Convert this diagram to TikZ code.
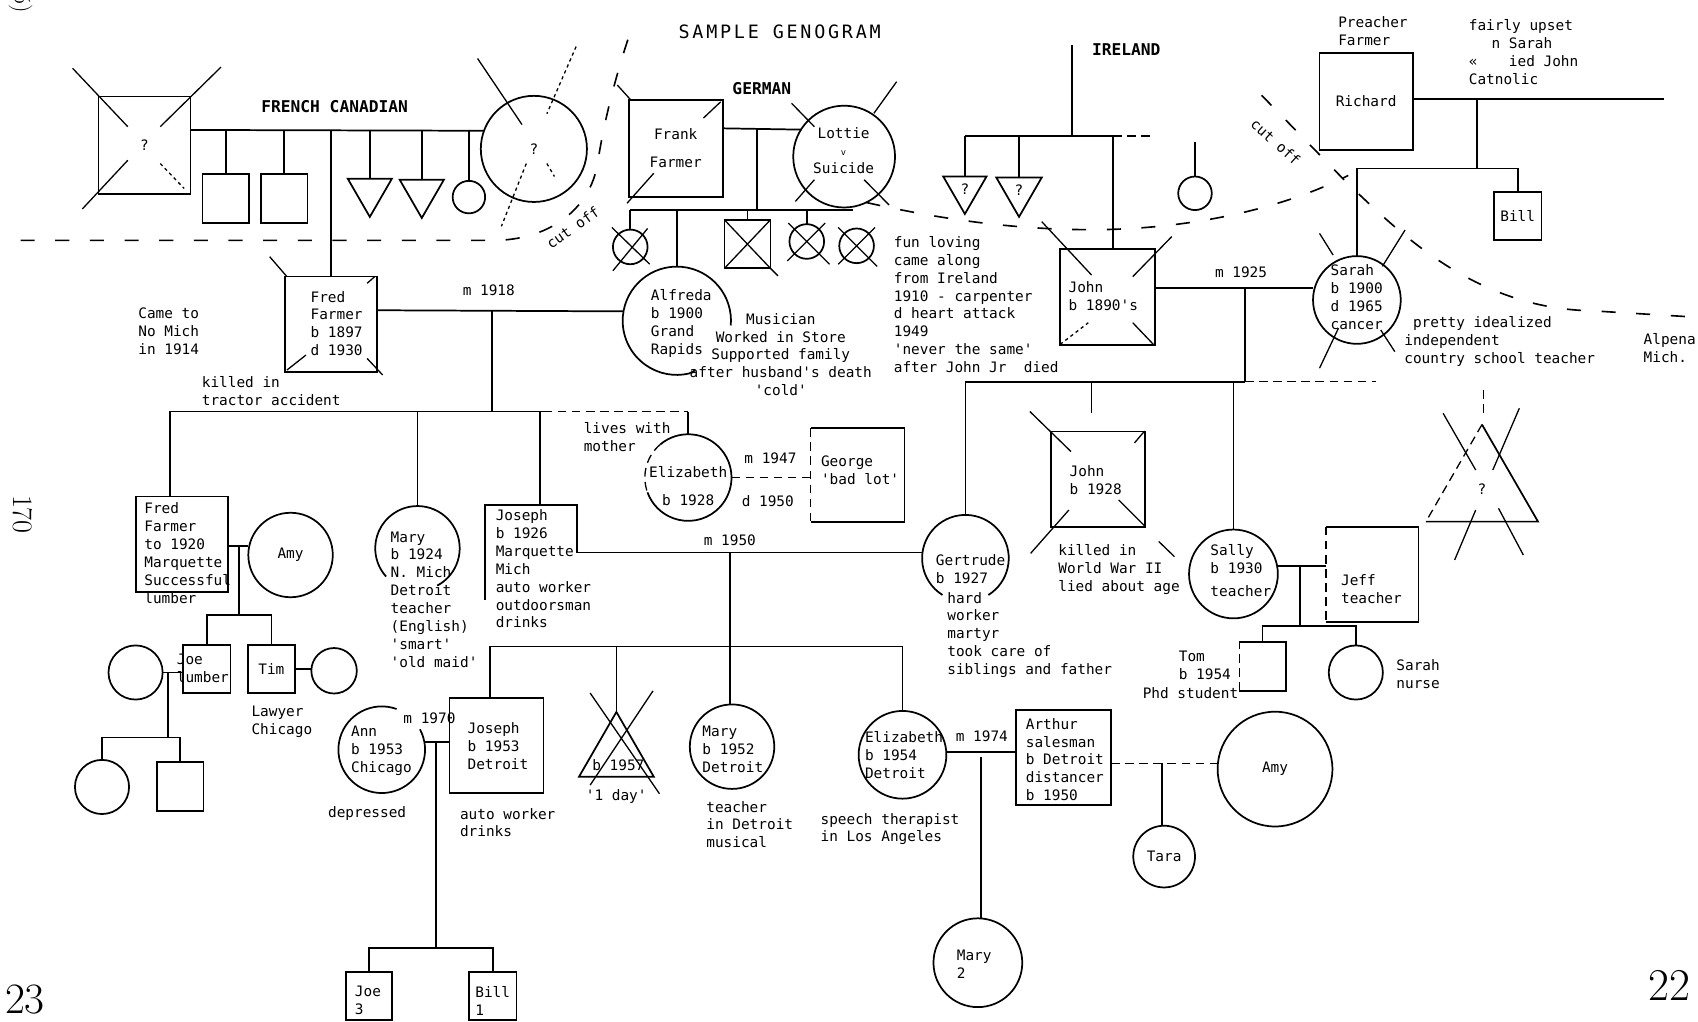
\documentclass[tikz,border=0pt]{standalone}
\usepackage{fontspec}
\usepackage{tikz}
\usetikzlibrary{shapes.geometric,calc}
\newfontfamily\gfont{DejaVu Sans Mono}
\newfontfamily\gtitle[LetterSpace=15]{DejaVu Sans Mono}
\newcommand\gsize{\fontsize{13.3}{16.5}\selectfont}

\begin{document}
\begin{tikzpicture}[
  x=1pt, y=-1pt, line width=1.6pt,
  male/.style 2 args={draw,rectangle,minimum width=#1,minimum height=#2,inner sep=0pt,outer sep=0pt},
  female/.style={draw,circle,minimum size=#1,inner sep=0pt,outer sep=0pt},
  tri/.style={draw,regular polygon,regular polygon sides=3,minimum size=#1,inner sep=0pt,outer sep=0pt},
  txt/.style={font=\gfont\gsize,align=left,anchor=north west,inner sep=0pt},
  lab/.style={font=\gfont\gsize,inner sep=0pt},
  caps/.style={font=\gfont\bfseries\fontsize{15}{18}\selectfont,inner sep=0pt},
  xl/.style={line width=1.2pt},
  dsh/.style={line width=1.2pt,dash pattern=on 8pt off 5pt},
  cutline/.style={line width=1.5pt,dash pattern=on 13pt off 19pt},
  pnum/.style={font=\fontsize{#1}{#1}\selectfont,inner sep=0pt}
]
\useasboundingbox (0,0) rectangle (1568,943);

% page numbers
\node[pnum=22,rotate=-90] (pgfive) at (19,-1) {(5)};
\node[pnum=26,rotate=-90] (pgleft) at (21,475) {170};
\node[pnum=40] (pgsw) at (23,923) {23};
\node[pnum=42] (pgse) at (1542,910) {22};
\node[font=\gtitle\fontsize{17}{20}\selectfont] (title) at (720,29) {SAMPLE GENOGRAM};

% French Canadian side
\node[male={85}{90},font=\gfont\gsize] (fcdad) at (133.5,134) {?};
\node[female=98,font=\gfont\gsize] (fcmom) at (493,137.5) {?};
\node[caps] (fclab) at (309,98) {FRENCH CANADIAN};
\coordinate (fcm) at (300,120);
\draw (fcdad.east |- fcm) -- (fcmom.160);
\node[male={43}{45}] (fcs1) at (208.5,183.5) {};
\node[male={43}{45}] (fcs2) at (262.5,183.5) {};
\node[tri=47,shape border rotate=180] (fcs3) at (341.5,176.8) {};
\node[tri=47,shape border rotate=180] (fcs4) at (389.5,177.8) {};
\node[female=30] (fcs5) at (433,182) {};
\foreach \k in {fcs1,fcs2,fcs3,fcs4,fcs5} \draw (\k.north |- fcm) -- (\k.north);
\draw[xl] (67,63) -- (118,117) (204,62) -- (148,117) (118,148) -- (76,193);
\draw[xl,dashed] (148,151) -- (170,174);
\draw[xl] (441,54) -- (482,115);
\draw[xl,dashed] (505,151) -- (512,163) (532,43) -- (505,105) (486,151) -- (463,209);
\draw[cutline] (19,222) -- (455,222) .. controls (505,222) and (545,195) .. (552,150) .. controls (558,110) and (570,65) .. (583,27);
\node[lab,rotate=35] (cut1) at (529,210) {cut off};

% Fred and Alfreda
\node[male={85}{88}] (fred) at (305.6,299.4) {};
\draw (fred.north |- fcm) -- (fred.north);
\node[txt] (fredtxt) at (286,268) {Fred\\Farmer\\b 1897\\d 1930};
\draw[xl] (249,237) -- (265,255.5) (346,255.5) -- (339,261.6) (265,341.7) -- (282.6,327.8) (339,331) -- (353.4,346.3);
\node[txt] (came) at (127,283.5) {Came to\\No Mich\\in 1914};
\node[txt] (tractor) at (185.6,347) {killed in\\tractor accident};
\node[female=100,draw=none] (alfreda) at (625,296.2) {};
\draw (alfreda.-5) arc[start angle=-5,end angle=283,radius=50pt] -- (642,342);
\node[txt] (alftxt) at (600.3,266.5) {Alfreda\\b 1900\\Grand\\Rapids};
\coordinate (m18) at (454,286.5);
\draw (fred.east |- m18) -- (alfreda.170);
\node[lab] (m18lab) at (451.4,268) {m 1918};
\coordinate (ffsib) at (454,380);
\coordinate (ffsibE) at (502,380);
\draw (m18) -- (ffsib);
\node[lab,align=center,anchor=north] (alfnote) at (721,288.5) {Musician\\Worked in Store\\Supported family\\after husband's death\\'cold'};
\node[txt] (funlov) at (824.6,217.5) {fun loving\\came along\\from Ireland\\1910 - carpenter\\d heart attack\\1949\\'never the same'\\after John Jr~ died};

% German side
\node[male={86.6}{89.3},font=\gfont\gsize,align=center] (frank) at (624,137) {Frank\\[9pt]Farmer};
\node[female=94] (lottie) at (779.5,144.6) {};
\node[lab,align=center] (lottxt) at (779,139) {Lottie\\{\footnotesize v}\\Suicide};
\node[caps] (gerlab) at (703.5,81.6) {GERMAN};
\coordinate (fl) at (699,118.5);
\draw (frank.east |- fl) -- (lottie.148);
\coordinate (gsib) at (699,194);
\coordinate (gsibE) at (787.5,194);
\draw (fl) -- (gsib);
\draw[xl] (570,78.5) -- (582.5,92.3) (665.5,94) -- (649.6,109) (603.7,160) -- (579,187.7);
\draw[xl] (731,95.4) -- (752,117) (828,75.4) -- (807,104.6) (752,166) -- (734.5,186) (798,166) -- (821,189.3);
\node[female=32] (gk1) at (582,228) {};
\node[male={42.5}{44.8}] (gk3) at (690.2,225.4) {};
\node[female=32] (gk4) at (745,223) {};
\node[female=32] (gk5) at (791,227) {};
\draw (gk1.north |- gsib) -- (gsibE);
\foreach \k in {gk1,gk3,gk4,alfreda} \draw (\k.north |- gsib) -- (\k.north);
\draw[xl] (565,210) -- (600,244) (598,211) -- (566,250);
\draw[xl] (gk3.north west) -- (gk3.south east) -- ++(7,7) (gk3.north east) -- (gk3.south west);
\draw[xl] (728,206) -- (766,244) (762,206) -- (727,241);
\draw[xl] (774,210) -- (810,246) (808,210) -- (774,244);
\draw[cutline] (800,187) .. controls (880,205) and (950,213) .. (1020,212) .. controls (1110,210) and (1190,190) .. (1245,162);

% Irish side
\node[caps] (irlab) at (1040,46) {IRELAND};
\coordinate (irtop) at (989.6,42);
\coordinate (irsib) at (989.6,125.6);
\coordinate (irE) at (1028,125.6);
\coordinate (irD) at (1062,125.6);
\draw (irtop) -- (irsib);
\node[tri=46.2,shape border rotate=180,font=\gfont\gsize] (ik1) at (891,174.5) {?};
\node[tri=48.5,shape border rotate=180,font=\gfont\gsize] (ik2) at (941,176) {?};
\node[male={87.5}{88.6}] (john90) at (1022.8,274.3) {};
\draw (ik1.north |- irsib) -- (irE);
\draw[dsh] (irE) -- (irD);
\foreach \k in {ik1,ik2} \draw (\k.north |- irsib) -- (\k.north);
\draw (irE) -- (irE |- john90.north);
\node[female=31] (ik4) at (1103.5,178.5) {};
\coordinate (ik4s) at (1103.5,131);
\draw (ik4s) -- (ik4.north);
\node[txt] (j90txt) at (986,259) {John\\b 1890's};
\draw[xl] (962,204.7) -- (1008,254) (1082,218.5) -- (1046,255.5) (1046,298) -- (1066,319);
\draw[xl,dashed] (979,318) -- (1005,298);

% Richard and Sarah
\node[female=81] (sarah) at (1253,277) {};
\node[txt] (sartxt) at (1228,243.5) {Sarah\\b 1900\\d 1965\\cancer};
\coordinate (m25) at (1149.7,266);
\draw (john90.east |- m25) -- (sarah.west |- m25);
\node[lab] (m25lab) at (1146,251) {m 1925};
\draw[xl] (1218.5,215.5) -- (1231,235.5) (1297.5,212.4) -- (1276.5,246) (1236,303) -- (1218.5,340) (1275,304.7) -- (1288,324.7);
\node[male={86}{89.5},font=\gfont\gsize] (richard) at (1261.5,93.7) {Richard};
\node[txt] (rictxt) at (1235,14.5) {Preacher\\Farmer};
\coordinate (rmE) at (1536.4,91.4);
\coordinate (rm) at (1363.7,91.4);
\coordinate (rsib) at (1363.7,155.5);
\draw (richard.east |- rmE) -- (rmE);
\draw (rm) -- (rsib);
\node[male={44}{44.6},font=\gfont\gsize] (bill0) at (1401.5,199.3) {Bill};
\draw (sarah.north) -- (sarah.north |- rsib) -- (bill0.north |- rsib) -- (bill0.north);
\node[txt] (upset) at (1355.6,17.5) {fairly upset\\\hspace{21pt}n Sarah\\«\hspace{29pt}ied John\\Catnolic};
\draw[cutline] (1165,88) -- (1245,170) .. controls (1290,212) and (1360,285) .. (1470,287) -- (1568,293);
\node[lab,rotate=-42] (cut2) at (1178,131) {cut off};
\node[txt] (alpena) at (1517,307.5) {Alpena\\Mich.};
\node[txt] (pretty) at (1296,291.5) {~pretty idealized\\independent\\country school teacher};

% children of John and Sarah
\coordinate (jsib) at (1149.7,352.5);
\coordinate (jsibE) at (1271,352.5);
\draw (m25) -- (jsib);
\node[female=80,draw=none] (gertrude) at (891.5,515.5) {};
\draw (gertrude.-58) arc[start angle=-58,end angle=238,radius=40pt];
\draw (gertrude.north) -- (gertrude.north |- jsib) -- (jsib);
\draw[dsh] (jsib) -- (jsibE);
\node[txt] (gertxt) at (863.5,511) {Gertrude\\b 1927};
\node[txt] (gernote) at (874,546) {hard\\worker\\martyr\\took care of\\siblings and father};
\node[male={87}{88}] (john28) at (1014,442.5) {};
\coordinate (j28s) at (1008,381);
\draw (j28s |- jsib) -- (j28s);
\node[txt] (j28txt) at (987,429) {John\\b 1928};
\draw[xl] (951,380) -- (989,417) (1057,398) -- (1047.6,409) (987,471) -- (951.7,511) (1033,461.7) -- (1057.7,486.3) (1070,500) -- (1084.5,514);
\node[txt] (j28note) at (976.5,502) {killed in\\World War II\\lied about age};
\node[female=82] (sally) at (1139,530) {};
\draw (sally.north |- jsib) -- (sally.north);
\node[txt] (saltxt) at (1117,502) {Sally\\b 1930\\[5pt]teacher};
\node[male={85.3}{87.7},draw=none] (jeff) at (1267.2,530.2) {};
\draw (jeff.north west) -- (jeff.north east) -- (jeff.south east) -- (jeff.south west);
\draw[dsh] (jeff.north west) -- (jeff.south west);
\node[txt] (jeftxt) at (1237.6,530) {Jeff\\teacher};
\coordinate (sj) at (1200.6,523.3);
\coordinate (ssib) at (1200.6,578);
\draw (sally.10) -- (sally.10 -| jeff.west);
\draw (sj) -- (ssib);
\node[male={43.2}{45.3},draw=none] (tom) at (1165.9,615.2) {};
\draw (tom.north west) -- (tom.north east) -- (tom.south east) -- (tom.south west);
\draw[dsh] (tom.south west) -- (tom.north west);
\node[female=50] (sarahN) at (1252,621) {};
\draw (tom.north) -- (tom.north |- ssib) -- (sarahN.north |- ssib) -- (sarahN.north);
\node[txt] (tomtxt) at (1087.8,600.5) {Tom\\b 1954};
\node[txt] (tomjob) at (1054.5,634.5) {Phd student};
\node[txt] (sarNtxt) at (1288.7,608.5) {Sarah\\nurse};
\node[tri=119.5,draw=none,font=\gfont\gsize] (rtri) at (1368.5,451.8) {?};
\draw (rtri.corner 2) -- (rtri.corner 3) -- (rtri.corner 1);
\draw[dsh] (rtri.corner 1) -- (rtri.corner 2);
\coordinate (rtriS) at (1369.7,360);
\coordinate (rtriT) at (1369.7,385);
\draw[dsh] (rtriS) -- (rtriT);
\draw[xl] (1332.6,381.6) -- (1362.7,434) (1383.8,469.4) -- (1406.7,512.5) (1403,377) -- (1378.5,434) (1362.7,471) -- (1343.3,517);

% children of Fred and Alfreda
\coordinate (f20s) at (157.3,380);
\node[male={84.8}{87.8}] (fred20) at (167.9,502.5) {};
\draw (f20s |- fred20.north) -- (f20s) -- (ffsibE);
\node[txt] (f20txt) at (132.5,463.5) {Fred\\Farmer\\to 1920\\Marquette\\Successful\\lumber};
\node[female=78,font=\gfont\gsize] (amy1) at (268.3,512.5) {Amy};
\coordinate (fa) at (220.9,503.9);
\coordinate (fasib) at (220.9,568);
\draw (fred20.east |- fa) -- (amy1.west |- fa);
\draw (fa) -- (fasib);
\node[male={43.7}{44.6}] (joe) at (190.9,617.9) {};
\node[male={43}{44.6},font=\gfont\gsize] (tim) at (250.6,617.9) {Tim};
\draw (joe.north) -- (joe.north |- fasib) -- (tim.north |- fasib) -- (tim.north);
\node[txt] (joetxt) at (162.5,603.5) {Joe\\lumber};
\node[female=50] (joew) at (125.2,621) {};
\draw (joew.east) -- (joew.east -| joe.west);
\coordinate (jk) at (154.8,620.5);
\coordinate (jksib) at (154.8,681);
\draw (jk) -- (jksib);
\node[female=50] (jk1) at (94.2,726.7) {};
\node[male={43}{45.3}] (jk2) at (166.5,726) {};
\draw (jk1.north) -- (jk1.north |- jksib) -- (jk2.north |- jksib) -- (jk2.north);
\node[female=42] (timw) at (308.5,619.4) {};
\draw (tim.east) -- (tim.east -| timw.west);
\node[txt] (timtxt) at (231.5,651.5) {Lawyer\\Chicago};
\node[female=78,draw=none] (mary24) at (385.5,506.3) {};
\draw (mary24.-62) arc[start angle=-62,end angle=222,radius=39pt];
\draw (mary24.north |- ffsib) -- (mary24.north);
\node[txt] (m24txt) at (360,490) {Mary\\b 1924\\N. Mich\\Detroit\\teacher\\(English)\\'smart'\\'old maid'};
\node[male={84.6}{87.7},draw=none] (joseph26) at (490.2,510.2) {};
\draw (joseph26.east) -- (joseph26.north east) -- (joseph26.north west) -- (joseph26.south west);
\coordinate (j26s) at (498.6,380);
\draw (j26s) -- (j26s |- joseph26.north);
\node[txt] (j26txt) at (457,470) {Joseph\\b 1926\\Marquette\\Mich\\auto worker\\outdoorsman\\drinks};
\node[female=80,draw=none] (eliz28) at (635.5,441) {};
\draw[dsh] (ffsibE) -- (eliz28.north |- ffsib);
\draw (eliz28.north |- ffsib) -- (eliz28.north);
\draw (eliz28.130) arc[start angle=130,end angle=-160,radius=40pt];
\draw[dsh] (eliz28.130) arc[start angle=130,end angle=200,radius=40pt];
\node[lab,align=center] (e28txt) at (635.5,449) {Elizabeth\\[10pt]b 1928};
\node[txt] (lives) at (538.3,389.5) {lives with\\mother};
\node[male={86.6}{86.2},draw=none] (george) at (791.9,438.6) {};
\draw (george.north west) -- (george.north east) -- (george.south east) -- (george.south west);
\draw[dsh] (george.north west) -- (george.south west);
\node[txt] (getxt) at (757.4,420.5) {George\\'bad lot'};
\draw[dsh] (eliz28.east) -- (eliz28.east -| george.west);
\node[lab] (m47) at (711.5,423) {m 1947};
\node[lab] (d50) at (709,462.3) {d 1950};

% Joseph and Gertrude
\draw (joseph26.east) -- (joseph26.east -| gertrude.west);
\node[lab] (m50) at (674,498.6) {m 1950};
\coordinate (jg) at (674.4,510.2);
\coordinate (jgsib) at (674.4,597);
\coordinate (jgsibW) at (452.4,597);
\node[female=78] (mary52) at (676,689.5) {};
\draw (jg) -- (jg |- mary52.north);
\node[male={86.8}{87.8}] (joseph53) at (458.4,688.7) {};
\node[tri=79.7] (baby57) at (569.2,697.3) {};
\node[female=81] (eliz54) at (833.4,697) {};
\draw (jgsibW |- joseph53.north) -- (jgsibW) -- (jgsib -| eliz54.north) -- (eliz54.north);
\draw (baby57.north |- jgsib) -- (baby57.north);
\draw[xl] (545,640) -- (609,733) (603,638) -- (545,725);
\node[lab] (b57) at (571,706.4) {b 1957};
\node[lab] (day1) at (569,735.6) {'1 day'};
\node[txt] (m52txt) at (647.9,670) {Mary\\b 1952\\Detroit};
\node[txt] (m52note) at (651.5,739) {teacher\\in Detroit\\musical};

% Joseph and Ann
\node[female=80,draw=none] (ann) at (352.5,692.3) {};
\draw (ann.28) arc[start angle=28,end angle=-290,radius=40pt];
\node[txt] (anntxt) at (323.4,670) {Ann\\b 1953\\Chicago};
\node[txt] (j53txt) at (431,666.5) {Joseph\\b 1953\\Detroit};
\draw (ann.10) -- (ann.10 -| joseph53.west);
\node[lab] (m70) at (396.6,663.3) {m 1970};
\coordinate (aj) at (402.9,685);
\coordinate (ajsib) at (402.9,875.7);
\draw (aj) -- (ajsib);
\node[male={42.5}{44.7}] (joe3) at (341,919.7) {};
\node[male={44}{44.7}] (bill1) at (455,919.7) {};
\draw (joe3.north) -- (joe3.north |- ajsib) -- (bill1.north |- ajsib) -- (bill1.north);
\node[txt] (joe3txt) at (327,910) {Joe\\3};
\node[txt] (bill1txt) at (438.2,910) {Bill\\1};
\node[lab] (depr) at (339,751) {depressed};
\node[txt] (j53note) at (424,745.5) {auto worker\\drinks};

% Elizabeth and Arthur
\node[txt] (e54txt) at (798,675) {Elizabeth\\b 1954\\Detroit};
\node[txt] (e54note) at (757,750) {speech therapist\\in Los Angeles};
\node[male={87.7}{87.7}] (arthur) at (982.2,699.5) {};
\node[txt] (arttxt) at (946.5,662.5) {Arthur\\salesman\\b Detroit\\distancer\\b 1950};
\draw (eliz54.4) -- (eliz54.4 -| arthur.west);
\node[lab] (m74) at (906.7,680) {m 1974};
\node[female=82] (mary2) at (903,889) {};
\coordinate (ea) at (905.8,699);
\draw (ea) -- (ea |- mary2.north);
\node[txt] (mary2txt) at (882.8,876.5) {Mary\\2};
\node[female=106,font=\gfont\gsize] (amy2) at (1177.4,710.2) {Amy};
\coordinate (aa) at (1072.8,705);
\draw[dsh] (arthur.east |- aa) -- (amy2.west |- aa);
\node[female=57,font=\gfont\gsize] (tara) at (1075,791) {Tara};
\draw (aa) -- (aa |- tara.north);
\end{tikzpicture}
\end{document}
